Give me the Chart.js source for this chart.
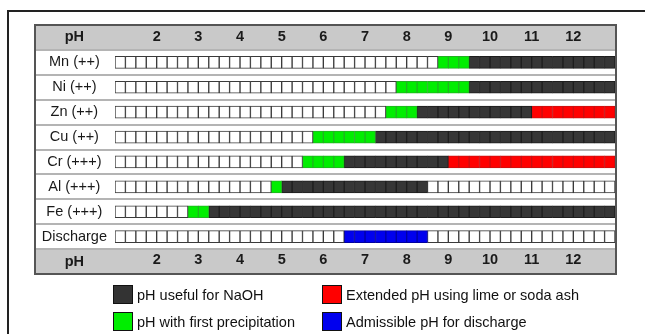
<!DOCTYPE html>
<html>
<head>
<meta charset="utf-8">
<script src="https://cdn.jsdelivr.net/npm/chart.js@4/dist/chart.umd.min.js"></script>
<style>
  html, body { margin: 0; padding: 0; background: #fff; }
  body { width: 645px; height: 334px; position: relative; overflow: hidden; font-family: 'Liberation Sans', Arial, sans-serif; }
  #frame { position: absolute; left: 7px; top: 10px; width: 700px; height: 400px; border-top: 2px solid #222; border-left: 2px solid #222; }
  canvas { position: absolute; left: 0; top: 0; }
  .lg { position: absolute; font-size: 14.5px; color: #111; white-space: nowrap; line-height: 18px; }
  .sw { position: absolute; width: 18px; height: 17px; border: 1px solid #111; }
</style>
</head>
<body>
<div id="frame"></div>
<canvas id="c" width="645" height="334"></canvas>
<div id="legend"></div>
<script>
// ---- data ----
const rowLabels = ['pH', 'Mn (++)', 'Ni (++)', 'Zn (++)', 'Cu (++)', 'Cr (+++)', 'Al (+++)', 'Fe (+++)', 'Discharge', 'pH'];
const phTicks = [2, 3, 4, 5, 6, 7, 8, 9, 10, 11, 12];
const phMin = 1, phMax = 13, cellStep = 0.25;
// ranges [from, to] per row (header/footer rows are null)
const firstPrecipitation = [null, [8.75, 9.5], [7.75, 9.5], [7.5, 8.25], [5.75, 7.25], [5.5, 6.5], [4.75, 5.0], [2.75, 3.25], null, null];
const usefulNaOH        = [null, [9.5, 13], [9.5, 13], [8.25, 11], [7.25, 13], [6.5, 9], [5.0, 8.5], [3.25, 13], null, null];
const extendedLime      = [null, null, null, [11, 13], null, [9, 13], null, null, null, null];
const dischargeRange    = [null, null, null, null, null, null, null, null, [6.5, 8.5], null];
const legendItems = [
  { label: 'pH useful for NaOH', color: '#333333' },
  { label: 'Extended pH using lime or soda ash', color: '#ff0000' },
  { label: 'pH with first precipitation', color: '#00ee00' },
  { label: 'Admissible pH for discharge', color: '#0000ee' }
];

// ---- styles ----
const FONT = "'Liberation Sans', Arial, sans-serif";
const fills = { white: '#ffffff', naoh: '#363636', green: '#00ee00', red: '#ff0000', blue: '#0000ee' };
const borders = { white: '#3a3a3a', naoh: '#1e1e1e', green: '#22b022', red: '#c81010', blue: '#0000a0' };

function inR(r, v) { return r && v > r[0] && v < r[1]; }
function kindOf(row, mid) {
  if (inR(firstPrecipitation[row], mid)) return 'green';
  if (inR(usefulNaOH[row], mid)) return 'naoh';
  if (inR(extendedLime[row], mid)) return 'red';
  if (inR(dischargeRange[row], mid)) return 'blue';
  return 'white';
}

const nCells = Math.round((phMax - phMin) / cellStep);
const datasets = [];
for (let k = 0; k < nCells; k++) {
  const a = phMin + k * cellStep, b = a + cellStep, mid = (a + b) / 2;
  const data = rowLabels.map((_, i) => (i === 0 || i === rowLabels.length - 1) ? null : [a, b]);
  const kinds = rowLabels.map((_, i) => kindOf(i, mid));
  datasets.push({
    data,
    backgroundColor: kinds.map(t => fills[t]),
    borderColor: kinds.map(t => borders[t]),
    borderWidth: 1,
    borderSkipped: false,
    barThickness: 12,
    grouped: false
  });
}

const bandsPlugin = {
  id: 'bands',
  beforeDraw(chart) {
    const ctx = chart.ctx, ys = chart.scales.y, ca = chart.chartArea;
    const h = (ca.bottom - ca.top) / rowLabels.length;
    ctx.save();
    ctx.fillStyle = '#c9c9c9';
    [0, rowLabels.length - 1].forEach(i => {
      const c = ys.getPixelForValue(i);
      ctx.fillRect(ys.left, c - h / 2, ca.right - ys.left, h);
    });
    ctx.restore();
  },
  afterDraw(chart) {
    const ctx = chart.ctx, ys = chart.scales.y, ca = chart.chartArea;
    ctx.save();
    ctx.strokeStyle = '#555';
    ctx.lineWidth = 2;
    ctx.strokeRect(ys.left, ca.top, ca.right - ys.left + 1, ca.bottom - ca.top);
    ctx.restore();
  }
};

function xTicks(scale) { scale.ticks = phTicks.map(v => ({ value: v })); }

new Chart(document.getElementById('c'), {
  type: 'bar',
  data: { labels: rowLabels, datasets },
  options: {
    indexAxis: 'y',
    responsive: false,
    animation: false,
    devicePixelRatio: 1,
    layout: { padding: { left: 35, right: 30, top: 25, bottom: 60 } },
    plugins: { legend: { display: false }, tooltip: { enabled: false } },
    scales: {
      y: {
        type: 'category',
        offset: true,
        border: { display: false },
        grid: { offset: true, color: '#b4b4b4', lineWidth: 2, drawTicks: true, tickLength: 80, tickColor: '#b4b4b4' },
        ticks: {
          crossAlign: 'center',
          padding: -72,
          color: '#1a1a1a',
          font: (c) => ({ family: FONT, size: 14.5, weight: (c.index === 0 || c.index === rowLabels.length - 1) ? 'bold' : 'normal' })
        },
        afterFit(s) { s.width = 80; }
      },
      x: {
        type: 'linear', position: 'bottom', min: phMin, max: phMax,
        border: { display: false },
        grid: { display: false },
        afterBuildTicks: xTicks,
        ticks: { mirror: true, padding: 5, color: '#1a1a1a', font: { family: FONT, size: 14.5, weight: 'bold' } },
        afterFit(s) { s.height = 0; }
      },
      xTop: {
        type: 'linear', position: 'top', min: phMin, max: phMax,
        border: { display: false },
        grid: { display: false },
        afterBuildTicks: xTicks,
        ticks: { mirror: true, padding: 3, color: '#1a1a1a', font: { family: FONT, size: 14.5, weight: 'bold' } },
        afterFit(s) { s.height = 0; }
      }
    }
  },
  plugins: [bandsPlugin]
});

// ---- HTML legend ----
const pos = [[113, 285], [322, 285], [113, 312], [322, 312]];
const lg = document.getElementById('legend');
legendItems.forEach((it, i) => {
  const [x, y] = pos[i];
  const sw = document.createElement('div');
  sw.className = 'sw';
  sw.style.left = x + 'px'; sw.style.top = y + 'px'; sw.style.background = it.color;
  lg.appendChild(sw);
  const t = document.createElement('div');
  t.className = 'lg';
  t.style.left = (x + 24) + 'px'; t.style.top = (y + 1) + 'px';
  t.textContent = it.label;
  lg.appendChild(t);
});
</script>
</body>
</html>
